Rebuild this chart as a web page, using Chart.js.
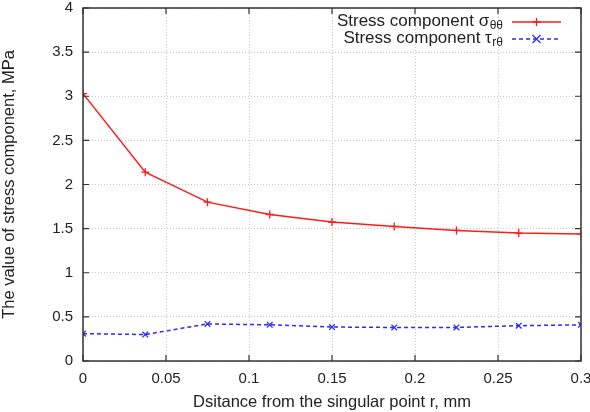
<!DOCTYPE html>
<html>
<head>
<meta charset="utf-8">
<script src="https://cdn.jsdelivr.net/npm/chart.js@4.4.1/dist/chart.umd.min.js"></script>
<style>
html,body{margin:0;padding:0;background:#fff;overflow:hidden;}
#wrap{position:relative;width:590px;height:412px;}
</style>
</head>
<body>
<div id="wrap"><canvas id="c" width="590" height="412"></canvas></div>
<script>
const distances = [0, 0.0375, 0.075, 0.1125, 0.15, 0.1875, 0.225, 0.2625, 0.3];
const sigmaTheta = [3.03, 2.14, 1.80, 1.66, 1.575, 1.525, 1.48, 1.45, 1.44];
const tauRTheta = [0.31, 0.30, 0.42, 0.41, 0.385, 0.38, 0.38, 0.40, 0.41];
const xTicks = [0, 0.05, 0.1, 0.15, 0.2, 0.25, 0.3];
const yTicks = [0, 0.5, 1, 1.5, 2, 2.5, 3, 3.5, 4];
const seriesNames = ['Stress component σ', 'Stress component τ'];
const seriesSubs = ['θθ', 'rθ'];
const xTitle = 'Dsitance from the singular point r, mm';
const yTitle = 'The value of stress component, MPa';

const FONT = '"Liberation Sans", Arial, Helvetica, sans-serif';
const TXT = '#222';

const frameTicks = {
  id: 'frameTicks',
  afterDraw(chart) {
    const {ctx, chartArea: a, scales: {x, y}} = chart;
    ctx.save();
    ctx.strokeStyle = '#333';
    ctx.lineWidth = 1.5;
    ctx.strokeRect(a.left, a.top, a.right - a.left, a.bottom - a.top);
    ctx.lineWidth = 1.2;
    const L = 6;
    ctx.beginPath();
    xTicks.forEach(v => {
      const px = x.getPixelForValue(v);
      ctx.moveTo(px, a.bottom); ctx.lineTo(px, a.bottom - L);
      ctx.moveTo(px, a.top); ctx.lineTo(px, a.top + L);
    });
    yTicks.forEach(v => {
      const py = y.getPixelForValue(v);
      ctx.moveTo(a.left, py); ctx.lineTo(a.left + L, py);
      ctx.moveTo(a.right, py); ctx.lineTo(a.right - L, py);
    });
    ctx.stroke();

    // legend (gnuplot style, inside top-right)
    const rowsY = [21, 38];
    const textEnd = 503;
    chart.data.datasets.forEach((ds, i) => {
      const yy = rowsY[i];
      ctx.font = '12px ' + FONT;
      const subW = ctx.measureText(seriesSubs[i]).width;
      ctx.fillStyle = TXT;
      ctx.textAlign = 'left';
      ctx.textBaseline = 'middle';
      ctx.fillText(seriesSubs[i], textEnd - subW, yy + 5);
      ctx.font = '17px ' + FONT;
      ctx.textAlign = 'right';
      ctx.fillText(seriesNames[i], textEnd - subW - 0.5, yy);
      // sample
      const x0 = 512, x1 = 561, yl = yy + 1;
      ctx.strokeStyle = ds.borderColor;
      ctx.lineWidth = ds.borderWidth;
      ctx.setLineDash(ds.borderDash || []);
      ctx.beginPath(); ctx.moveTo(x0, yl); ctx.lineTo(x1, yl); ctx.stroke();
      ctx.setLineDash([]);
      const mx = (x0 + x1) / 2, r = 4;
      ctx.lineWidth = 1.3;
      ctx.beginPath();
      if (ds.pointStyle === 'cross') {
        ctx.moveTo(mx - r, yl); ctx.lineTo(mx + r, yl);
        ctx.moveTo(mx, yl - r); ctx.lineTo(mx, yl + r);
      } else {
        ctx.moveTo(mx - r, yl - r); ctx.lineTo(mx + r, yl + r);
        ctx.moveTo(mx - r, yl + r); ctx.lineTo(mx + r, yl - r);
      }
      ctx.stroke();
    });
    ctx.restore();
  }
};

new Chart(document.getElementById('c'), {
  type: 'line',
  data: {
    datasets: [
      {
        label: seriesNames[0] + seriesSubs[0],
        data: distances.map((d, i) => ({x: d, y: sigmaTheta[i]})),
        borderColor: '#ff1a1a',
        backgroundColor: '#ff1a1a',
        borderWidth: 1.5,
        pointStyle: 'cross',
        pointRadius: 4,
        pointBorderWidth: 1.3,
        tension: 0,
        fill: false
      },
      {
        label: seriesNames[1] + seriesSubs[1],
        data: distances.map((d, i) => ({x: d, y: tauRTheta[i]})),
        borderColor: '#2a2aff',
        backgroundColor: '#2a2aff',
        borderWidth: 1.5,
        borderDash: [4, 3],
        pointStyle: 'crossRot',
        pointRadius: 4,
        pointBorderWidth: 1.3,
        tension: 0,
        fill: false
      }
    ]
  },
  options: {
    responsive: false,
    animation: false,
    devicePixelRatio: 1,
    layout: {padding: {top: 8, right: 9, left: 0, bottom: 0}},
    plugins: {legend: {display: false}, tooltip: {enabled: false}},
    scales: {
      x: {
        type: 'linear', min: 0, max: 0.3,
        afterBuildTicks(s) { s.ticks = xTicks.map(v => ({value: v})); },
        afterFit(s) { s.height = 51; s.paddingRight = 0; s.paddingLeft = 0; },
        ticks: {
          color: TXT, font: {family: FONT, size: 15}, padding: 9, maxRotation: 0, autoSkip: false,
          callback: v => String(Number(v.toFixed(3)))
        },
        grid: {color: '#c8c8c8', lineWidth: 1, drawTicks: false},
        border: {display: false, dash: [1, 2]},
        title: {display: true, text: xTitle, color: TXT, font: {family: FONT, size: 16.5}, padding: {top: 6, bottom: 0}}
      },
      y: {
        min: 0, max: 4,
        afterBuildTicks(s) { s.ticks = yTicks.map(v => ({value: v})); },
        afterFit(s) { s.width = 83; s.paddingTop = 0; s.paddingBottom = 0; },
        ticks: {
          color: TXT, font: {family: FONT, size: 15}, padding: 10, autoSkip: false,
          callback: v => String(Number(v.toFixed(2)))
        },
        grid: {color: '#c8c8c8', lineWidth: 1, drawTicks: false},
        border: {display: false, dash: [1, 2]},
        title: {display: true, text: yTitle, color: TXT, font: {family: FONT, size: 16.5}, padding: {top: 0, bottom: 7}}
      }
    }
  },
  plugins: [frameTicks]
});
</script>
</body>
</html>
